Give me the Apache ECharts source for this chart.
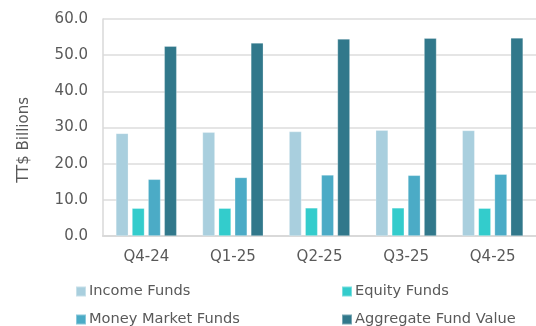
<!DOCTYPE html>
<html>
<head>
<meta charset="utf-8">
<script src="https://cdn.jsdelivr.net/npm/echarts@6/dist/echarts.min.js"></script>
<style>
  html, body { margin: 0; padding: 0; background: #fff; }
  #chart { width: 536px; height: 326px; }
</style>
</head>
<body>
<div id="chart"></div>
<script>
// Quarterly fund values, TT$ billions
const quarters = ['Q4-24', 'Q1-25', 'Q2-25', 'Q3-25', 'Q4-25'];
const incomeFunds = [28.4, 28.7, 28.9, 29.3, 29.2];
const equityFunds = [7.7, 7.7, 7.8, 7.8, 7.7];
const moneyMarketFunds = [15.7, 16.2, 16.9, 16.8, 17.1];
const aggregateFundValue = [52.5, 53.4, 54.5, 54.7, 54.8];

const seriesNames = ['Income Funds', 'Equity Funds', 'Money Market Funds', 'Aggregate Fund Value'];
const seriesColors = ['#A9CFDE', '#33CCCC', '#4BABC6', '#31788B'];
const seriesValues = [incomeFunds, equityFunds, moneyMarketFunds, aggregateFundValue];

const FONT = '"DejaVu Sans", "Liberation Sans", Arial, sans-serif';
const TEXT = '#595959';
const FS = 15;

const legendPos = [
  { left: 75, top: 284 },
  { left: 341, top: 284 },
  { left: 75, top: 312 },
  { left: 341, top: 312 }
];

const chart = echarts.init(document.getElementById('chart'), null, { renderer: 'canvas' });

chart.setOption({
  animation: false,
  backgroundColor: '#ffffff',
  grid: { left: 103, width: 443, top: 19, bottom: 90, containLabel: false },
  legend: seriesNames.map((name, i) => ({
    data: [name],
    left: legendPos[i].left,
    top: legendPos[i].top,
    itemWidth: 10,
    itemHeight: 10,
    itemGap: 0,
    icon: 'rect',
    selectedMode: false,
    padding: 0,
    textStyle: { color: TEXT, fontSize: 14.6, fontFamily: FONT, padding: [0, 0, 0, -2] }
  })),
  graphic: [{
    type: 'text',
    left: 17,
    top: 97,
    rotation: Math.PI / 2,
    style: {
      text: 'TT$ Billions',
      fill: TEXT,
      font: FS + 'px ' + FONT
    }
  }],
  xAxis: {
    type: 'category',
    data: quarters,
    axisLine: { show: true, lineStyle: { color: '#D9D9D9', width: 2 } },
    axisTick: { show: false },
    axisLabel: { color: TEXT, fontSize: FS, fontFamily: FONT, margin: 14 }
  },
  yAxis: {
    type: 'value',
    min: 0,
    max: 60,
    interval: 10,
    axisLine: { show: true, lineStyle: { color: '#D9D9D9', width: 1.5 } },
    axisTick: { show: false },
    splitLine: { lineStyle: { color: '#DCDCDC', width: 1.5 } },
    axisLabel: {
      color: TEXT, fontSize: FS, fontFamily: FONT, margin: 15,
      formatter: v => v.toFixed(1)
    }
  },
  series: seriesNames.map((name, i) => ({
    name: name,
    type: 'bar',
    data: seriesValues[i],
    barWidth: 12.6,
    barGap: '28%',
    itemStyle: { color: seriesColors[i], borderColor: 'rgba(255,255,255,0.35)', borderWidth: 0.75 }
  }))
});
</script>
</body>
</html>
